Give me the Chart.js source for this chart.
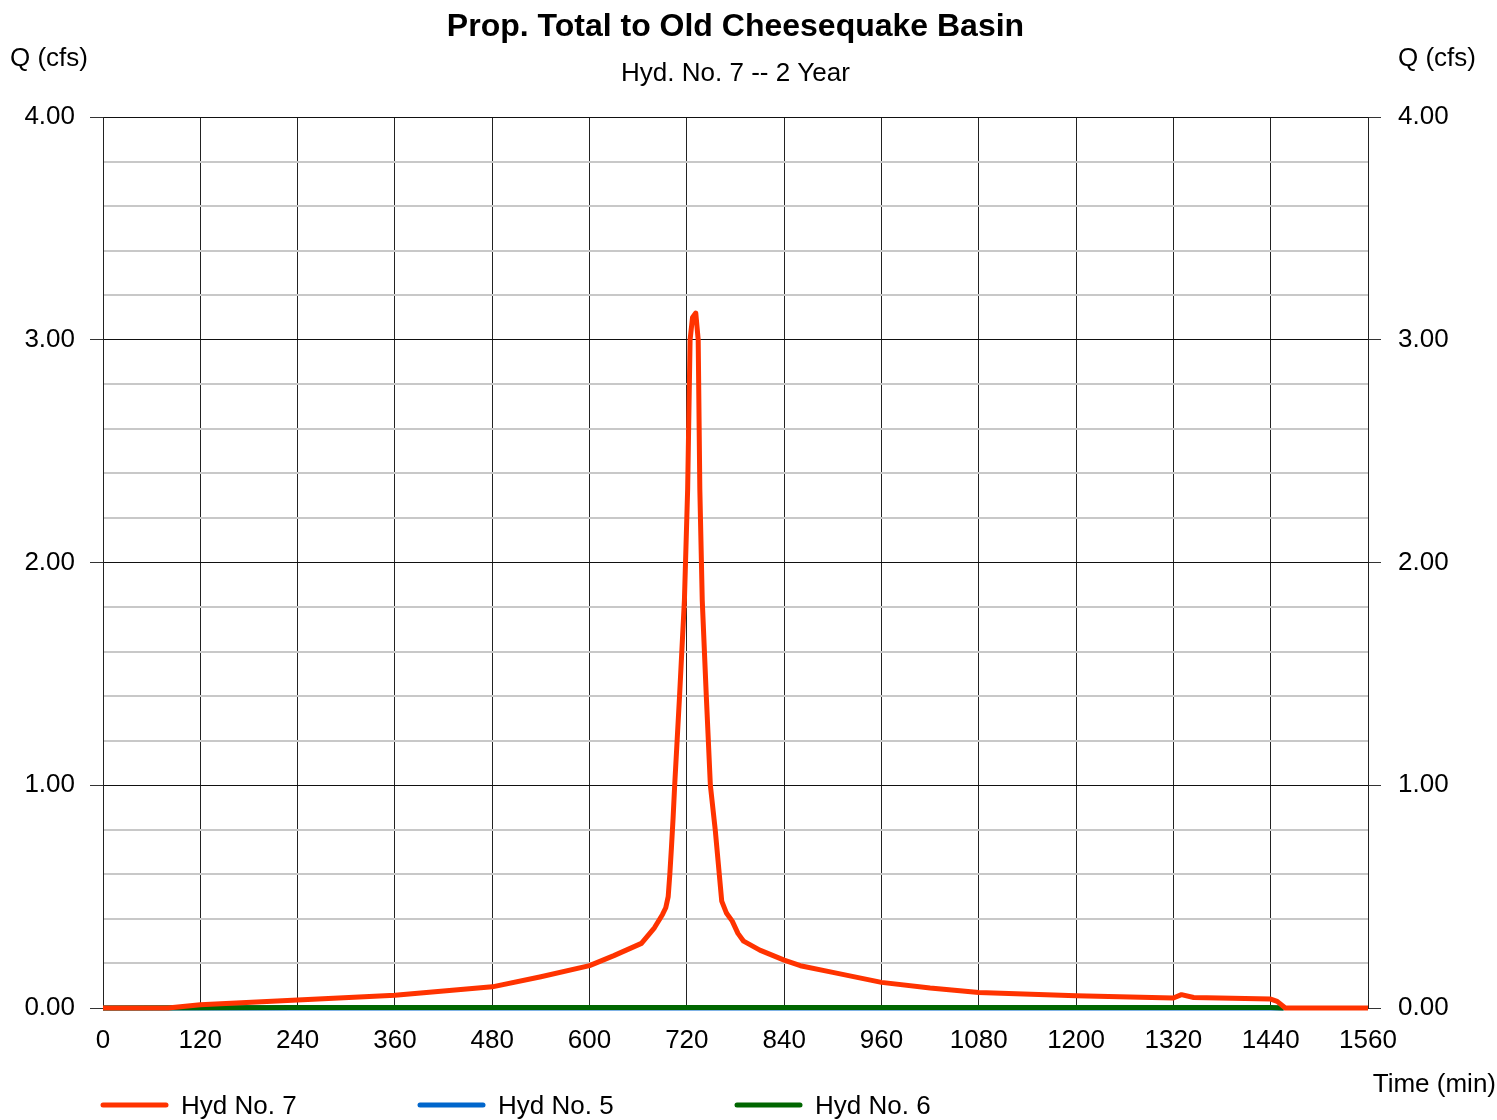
<!DOCTYPE html>
<html>
<head>
<meta charset="utf-8">
<script src="https://cdn.jsdelivr.net/npm/chart.js@4/dist/chart.umd.min.js"></script>
<style>
  body { margin: 0; background: #fff; }
  #wrap { width: 1497px; height: 1120px; position: relative; }
</style>
</head>
<body>
<div id="wrap"><canvas id="hydChart"></canvas></div>
<script>
const ctx = document.getElementById("hydChart").getContext("2d");

// Hyd No. 7 (time in min, flow in cfs)
const hyd7Time = [
  0, 80, 120, 240, 360, 480, 540, 600, 630, 664, 680, 690, 694, 697, 699,
  701, 703, 705, 711, 717, 721, 724, 727, 731, 734, 736, 739, 744, 749, 755,
  760, 763, 769, 776, 783, 790, 810, 840, 860, 900, 960, 1020, 1080, 1200,
  1320, 1330, 1345, 1440, 1448, 1458, 1560,
];
const hyd7Flow = [
  0, 0, 0.015, 0.036, 0.057, 0.095, 0.14, 0.19, 0.235, 0.29, 0.36, 0.42,
  0.45, 0.5, 0.6, 0.72, 0.85, 1.0, 1.4, 1.83, 2.33, 3.0, 3.1, 3.12, 3.0,
  2.33, 1.83, 1.4, 1.0, 0.8, 0.6, 0.48, 0.425, 0.39, 0.335, 0.3, 0.26,
  0.215, 0.19, 0.16, 0.115, 0.09, 0.07, 0.055, 0.045, 0.06, 0.047, 0.04,
  0.03, 0, 0,
];

// Hyd No. 5
const hyd5Time = [0, 240, 720, 1200, 1440, 1456];
const hyd5Flow = [0, 0, 0, 0, 0, 0];

// Hyd No. 6
const hyd6Time = [0, 240, 720, 1200, 1440, 1456];
const hyd6Flow = [0, 0.002, 0.002, 0.002, 0.002, 0];

const X_MIN = 0;
const X_MAX = 1560;
const X_STEP = 120;
const Y_MIN = 0;
const Y_MAX = 4;
const Y_STEP = 0.2;

const TITLE = "Prop. Total to Old Cheesequake Basin";
const SUBTITLE = "Hyd. No. 7 -- 2 Year";
const Y_TITLE = "Q (cfs)";
const X_TITLE = "Time (min)";

const COLORS = {
  red: "#ff3300",
  blue: "#0066cc",
  green: "#006600",
};

const FONT = "'Liberation Sans', Arial, sans-serif";

function toPoints(xs, ys) {
  return xs.map((x, i) => ({ x: x, y: ys[i] }));
}

function isMajor(v) {
  return Math.abs(v - Math.round(v)) < 1e-6;
}

function lineSet(label, xs, ys, color, order) {
  return {
    label: label,
    data: toPoints(xs, ys),
    borderColor: color,
    backgroundColor: color,
    borderWidth: 5,
    borderJoinStyle: "round",
    pointRadius: 0,
    tension: 0,
    order: order,
  };
}

const data = {
  datasets: [
    lineSet("Hyd No. 7", hyd7Time, hyd7Flow, COLORS.red, 0),
    lineSet("Hyd No. 5", hyd5Time, hyd5Flow, COLORS.blue, 2),
    lineSet("Hyd No. 6", hyd6Time, hyd6Flow, COLORS.green, 1),
  ],
};

// titles, axis captions and legend drawn on the canvas
const textPlugin = {
  id: "texts",
  afterDraw(chart) {
    const c = chart.ctx;
    const area = chart.chartArea;
    const mid = (area.left + area.right) / 2;
    c.save();
    c.fillStyle = "#000";
    c.textBaseline = "middle";

    c.font = "bold 32px " + FONT;
    c.textAlign = "center";
    c.fillText(TITLE, mid, 27);

    c.font = "26px " + FONT;
    c.fillText(SUBTITLE, mid, 74);

    c.textAlign = "left";
    c.fillText(Y_TITLE, 10, 59);
    c.fillText(Y_TITLE, 1398, 59);

    c.textAlign = "right";
    c.fillText(X_TITLE, 1496, 1085);

    // legend
    c.textAlign = "left";
    c.lineCap = "round";
    c.lineWidth = 5;
    chart.data.datasets.forEach((ds, i) => {
      const x0 = 103 + i * 317;
      c.strokeStyle = ds.borderColor;
      c.beginPath();
      c.moveTo(x0, 1105);
      c.lineTo(x0 + 63, 1105);
      c.stroke();
      c.fillText(ds.label, x0 + 78, 1107);
    });
    c.restore();
  },
};

const yTicks = {
  stepSize: Y_STEP,
  color: "#000",
  font: { family: FONT, size: 26 },
  callback: (v) => (isMajor(v) ? v.toFixed(2) : ""),
};

const config = {
  type: "line",
  data: data,
  plugins: [textPlugin],
  options: {
    responsive: true,
    maintainAspectRatio: false,
    animation: false,
    clip: false,
    layout: { padding: { top: 117, left: 0, right: 0, bottom: 0 } },
    plugins: {
      legend: { display: false },
      tooltip: { enabled: false },
      title: { display: false },
    },
    scales: {
      x: {
        type: "linear",
        min: X_MIN,
        max: X_MAX,
        afterFit: (s) => { s.height = 112; },
        ticks: {
          stepSize: X_STEP,
          color: "#000",
          padding: 17,
          maxRotation: 0,
          font: { family: FONT, size: 26 },
          callback: (v) => String(v),
        },
        grid: { color: "#222", lineWidth: 1, drawTicks: false },
        border: { color: "#222", width: 1 },
      },
      y: {
        position: "left",
        min: Y_MIN,
        max: Y_MAX,
        afterFit: (s) => { s.width = 103; },
        ticks: Object.assign({}, yTicks, { padding: 15 }),
        grid: {
          color: (c) => (isMajor(c.tick.value) ? "#111" : "#c8c8c8"),
          lineWidth: (c) => (isMajor(c.tick.value) ? 1 : 2),
          tickColor: (c) => (isMajor(c.tick.value) ? "#333" : "rgba(0,0,0,0)"),
          tickLength: 13,
          tickWidth: 1,
        },
        border: { color: "#222", width: 1 },
      },
      y2: {
        position: "right",
        min: Y_MIN,
        max: Y_MAX,
        afterFit: (s) => { s.width = 129; },
        ticks: Object.assign({}, yTicks, { padding: 17 }),
        grid: {
          drawOnChartArea: false,
          tickColor: (c) => (isMajor(c.tick.value) ? "#333" : "rgba(0,0,0,0)"),
          tickLength: 13,
          tickWidth: 1,
        },
        border: { color: "#222", width: 1 },
      },
    },
  },
};

const hydChart = new Chart(ctx, config);
</script>
</body>
</html>
